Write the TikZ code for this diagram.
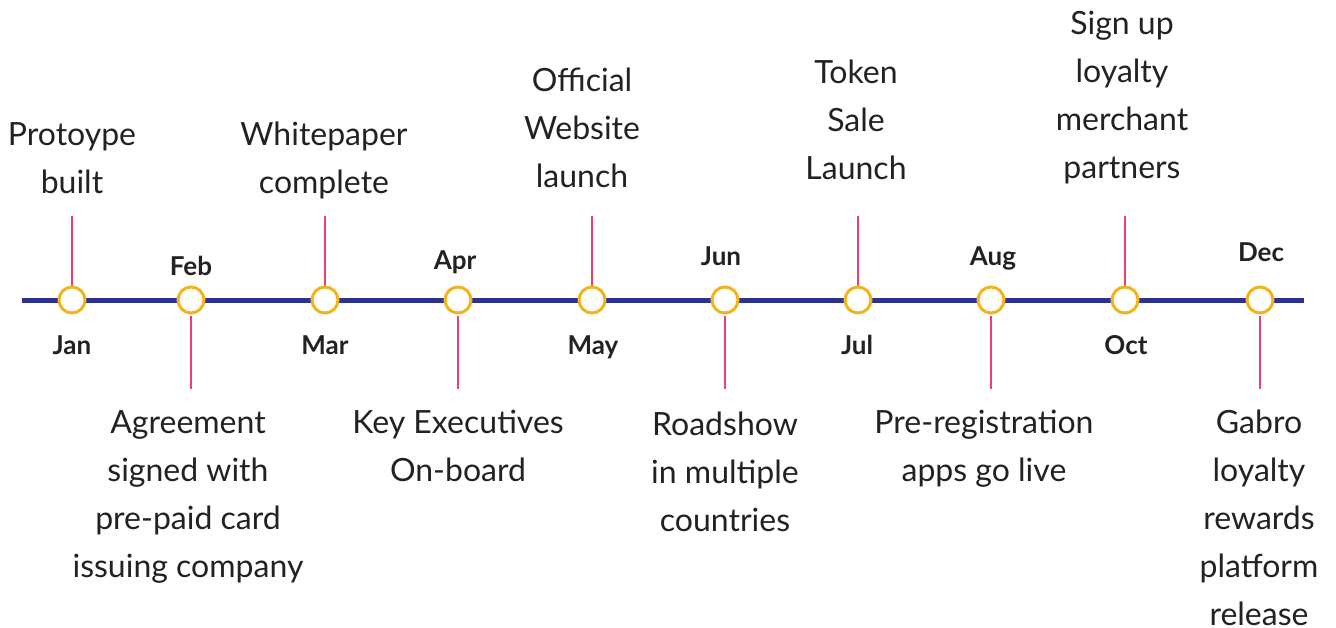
\documentclass[tikz,border=0pt]{standalone}
\usepackage{fontspec}
\setmainfont{Lato}
\definecolor{tlblue}{HTML}{2E3192}
\definecolor{tlyellow}{HTML}{F2B41C}
\definecolor{tlpink}{HTML}{EC3E7A}
\definecolor{txt}{HTML}{222222}
\begin{document}
\begin{tikzpicture}[x=1pt,y=-1pt,
  event/.style={font=\fontsize{32}{48}\selectfont, text=txt, align=center, inner sep=0pt, anchor=base},
  month/.style={font=\bfseries\fontsize{26}{30}\selectfont, text=txt, inner sep=0pt, anchor=base},
  dot/.style={circle, draw=tlyellow, line width=3pt, fill=white, minimum size=26pt, inner sep=0pt},
  stem/.style={draw=tlpink, line width=2.8pt}]
\useasboundingbox (0,0) rectangle (1336,627);
\coordinate (L) at (22,300);
\coordinate (R) at (1304,300);
\draw[tlblue, line width=5pt] (L) -- (R);
% stem end points
\coordinate (janT) at (72,216);
\coordinate (marT) at (325,216);
\coordinate (mayT) at (592,216);
\coordinate (julT) at (858,216);
\coordinate (octT) at (1125,216);
\coordinate (febB) at (191,389);
\coordinate (aprB) at (458,389);
\coordinate (junB) at (725,389);
\coordinate (augB) at (991,389);
\coordinate (decB) at (1260,389);
\coordinate (janC) at (72,300);
\coordinate (marC) at (325,300);
\coordinate (mayC) at (592,300);
\coordinate (julC) at (858,300);
\coordinate (octC) at (1125,300);
\coordinate (febS) at (191,316);
\coordinate (aprS) at (458,316);
\coordinate (junS) at (725,316);
\coordinate (augS) at (991,316);
\coordinate (decS) at (1260,316);
\foreach \m in {jan,mar,may,jul,oct} {\draw[stem] (\m C) -- (\m T);}
\foreach \m in {feb,apr,jun,aug,dec} {\draw[stem] (\m S) -- (\m B);}
% dots
\node[dot] (jan) at (janC) {};
\node[dot] (feb) at (191,300) {};
\node[dot] (mar) at (marC) {};
\node[dot] (apr) at (458,300) {};
\node[dot] (may) at (mayC) {};
\node[dot] (jun) at (725,300) {};
\node[dot] (jul) at (julC) {};
\node[dot] (aug) at (991,300) {};
\node[dot] (oct) at (octC) {};
\node[dot] (dec) at (1260,300) {};
% month labels
\node[month] (ljan) at (72,354) {Jan};
\node[month] (lfeb) at (191,275) {Feb};
\node[month] (lmar) at (325,354) {Mar};
\node[month] (lapr) at (455,269) {Apr};
\node[month] (lmay) at (593,354) {May};
\node[month] (ljun) at (721,265) {Jun};
\node[month] (ljul) at (857,354) {Jul};
\node[month] (laug) at (993,265) {Aug};
\node[month] (loct) at (1126,354) {Oct};
\node[month] (ldec) at (1261,261) {Dec};
% events above (anchor = baseline of last line)
\node[event] (e1) at (72,193) {Protoype\\built};
\node[event] (e3) at (324,193) {Whitepaper\\complete};
\node[event] (e5) at (582,187) {Official\\Website\\launch};
\node[event] (e7) at (856,179) {Token\\Sale\\Launch};
\node[event] (e9) at (1122,178) {Sign up\\loyalty\\merchant\\partners};
% events below
\node[event] (e2) at (188,577) {Agreement\\signed with\\pre-paid card\\issuing company};
\node[event] (e4) at (458,481) {Key Executives\\On-board};
\node[event] (e6) at (725,531) {Roadshow\\in multiple\\countries};
\node[event] (e8) at (984,481) {Pre-registration\\apps go live};
\node[event] (e10) at (1259,625) {Gabro\\loyalty\\rewards\\platform\\release};
\end{tikzpicture}
\end{document}
